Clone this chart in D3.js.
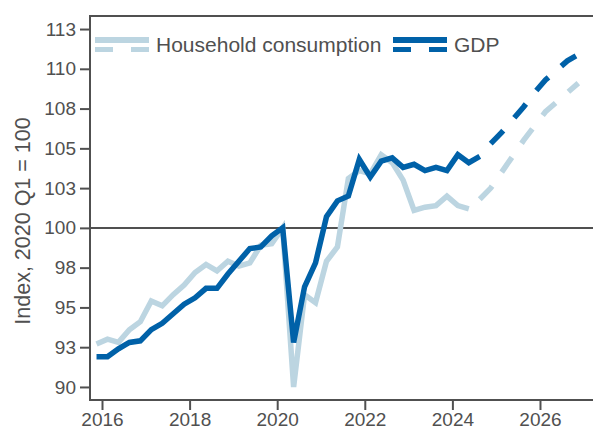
<!DOCTYPE html>
<html>
<head>
<meta charset="utf-8">
<script src="https://cdn.jsdelivr.net/npm/d3@7"></script>
<style>
  body { margin: 0; background: #fff; }
  svg { display: block; font-family: "Liberation Sans", Arial, sans-serif; }
</style>
</head>
<body>
<script>
// quarterly observations, 2015 Q4 .. 2026 Q4
const quarters = [
  "2015-Q4",
  "2016-Q1","2016-Q2","2016-Q3","2016-Q4",
  "2017-Q1","2017-Q2","2017-Q3","2017-Q4",
  "2018-Q1","2018-Q2","2018-Q3","2018-Q4",
  "2019-Q1","2019-Q2","2019-Q3","2019-Q4",
  "2020-Q1","2020-Q2","2020-Q3","2020-Q4",
  "2021-Q1","2021-Q2","2021-Q3","2021-Q4",
  "2022-Q1","2022-Q2","2022-Q3","2022-Q4",
  "2023-Q1","2023-Q2","2023-Q3","2023-Q4",
  "2024-Q1","2024-Q2","2024-Q3","2024-Q4",
  "2025-Q1","2025-Q2","2025-Q3","2025-Q4",
  "2026-Q1","2026-Q2","2026-Q3","2026-Q4"
];

// actuals: 2015 Q4 .. 2024 Q2
const hhActual = [
  92.7, 93.0, 92.8, 93.6, 94.1, 95.4, 95.1, 95.8, 96.4,
  97.2, 97.7, 97.3, 97.9, 97.6, 97.8, 98.9, 99.0,
  100.0, 90.0, 95.8, 95.3, 97.9, 98.8, 103.1, 103.6,
  103.4, 104.6, 104.1, 103.0, 101.1, 101.3, 101.4, 102.0,
  101.4, 101.2
];
// forecast: 2024 Q3 .. 2026 Q4
const hhForecast = [101.8, 102.5, 103.5, 104.5, 105.5, 106.4, 107.3, 107.9, 108.5, 109.1];

// actuals: 2015 Q4 .. 2024 Q3
const gdpActual = [
  91.9, 91.9, 92.4, 92.8, 92.9, 93.6, 94.0, 94.6, 95.2,
  95.6, 96.2, 96.2, 97.1, 97.9, 98.7, 98.8, 99.5,
  100.0, 92.8, 96.3, 97.8, 100.7, 101.7, 102.0, 104.3,
  103.2, 104.2, 104.4, 103.8, 104.0, 103.6, 103.8, 103.6,
  104.6, 104.1, 104.5
];
// forecast: 2024 Q4 .. 2026 Q4
const gdpForecast = [105.3, 106.0, 106.8, 107.6, 108.5, 109.3, 109.9, 110.5, 110.9];

const yTicks = [90, 92.5, 95, 97.5, 100, 102.5, 105, 107.5, 110, 112.5];
const yTickLabels = ["90", "93", "95", "98", "100", "103", "105", "108", "110", "113"];
const xTicks = [2016, 2018, 2020, 2022, 2024, 2026];

const W = 593, H = 432;
const m = {left: 90, right: -2, top: 16, bottom: 32};

const ink = "#505050";
const darkBlue = "#0061a8";
const lightBlue = "#bcd5e1";

function qTime(q) {
  const yr = +q.slice(0, 4), n = +q.slice(6);
  return yr + (n - 1) / 4 + 0.125;
}

function series(vals, start) {
  return vals.map((v, i) => ({t: qTime(quarters[start + i]), v: v}));
}

const svg = d3.select("body").append("svg")
  .attr("width", W)
  .attr("height", H);

const x = d3.scaleLinear()
  .domain([2015.726, 2027.256])
  .range([m.left, W - m.right]);

const y = d3.scaleLinear()
  .domain([89.18, 113.32])
  .range([H - m.bottom, m.top]);

const line = d3.line()
  .x(d => x(d.t))
  .y(d => y(d.v))
  .curve(d3.curveLinear);

// reference line at 100
svg.append("line")
  .attr("x1", m.left).attr("x2", W)
  .attr("y1", y(100)).attr("y2", y(100))
  .attr("stroke", ink)
  .attr("stroke-width", 2);

const lines = [
  {vals: hhActual, start: 0, color: lightBlue, dash: null},
  {vals: hhForecast, start: hhActual.length, color: lightBlue, dash: "18,17"},
  {vals: gdpActual, start: 0, color: darkBlue, dash: null},
  {vals: gdpForecast, start: gdpActual.length, color: darkBlue, dash: "18,17"}
];

lines.forEach(s => {
  svg.append("path")
    .datum(series(s.vals, s.start))
    .attr("d", line)
    .attr("fill", "none")
    .attr("stroke", s.color)
    .attr("stroke-width", 5.5)
    .attr("stroke-linejoin", "miter")
    .attr("stroke-dasharray", s.dash);
});

// axes
const yAxis = d3.axisLeft(y)
  .tickValues(yTicks)
  .tickFormat((d, i) => yTickLabels[i])
  .tickSize(10)
  .tickPadding(4);

const xAxis = d3.axisBottom(x)
  .tickValues(xTicks)
  .tickFormat(d3.format("d"))
  .tickSize(10)
  .tickPadding(3);

const gy = svg.append("g")
  .attr("transform", "translate(" + m.left + ",0)")
  .call(yAxis);

const gx = svg.append("g")
  .attr("transform", "translate(0," + (H - m.bottom) + ")")
  .call(xAxis);

[gx, gy].forEach(g => {
  g.select(".domain").remove();
  g.selectAll(".tick line").attr("stroke", ink).attr("stroke-width", 2);
  g.selectAll(".tick text")
    .attr("fill", ink)
    .style("font-size", "19px");
});

// frame (right edge sits just outside the window)
svg.append("rect")
  .attr("x", m.left)
  .attr("y", m.top)
  .attr("width", W - m.right - m.left)
  .attr("height", H - m.bottom - m.top)
  .attr("fill", "none")
  .attr("stroke", ink)
  .attr("stroke-width", 2);

svg.append("text")
  .attr("transform", "translate(30,221) rotate(-90)")
  .attr("text-anchor", "middle")
  .attr("fill", ink)
  .style("font-size", "21.5px")
  .text("Index, 2020 Q1 = 100");

// legend: solid swatch over a dashed swatch
const legendItems = [
  {label: "Household consumption", color: lightBlue, x: 95},
  {label: "GDP", color: darkBlue, x: 393}
];

const legend = svg.selectAll(".legend")
  .data(legendItems)
  .enter().append("g")
  .attr("class", "legend")
  .attr("transform", d => "translate(" + d.x + ",0)");

legend.append("line")
  .attr("x1", 0).attr("x2", 54)
  .attr("y1", 40).attr("y2", 40)
  .attr("stroke", d => d.color)
  .attr("stroke-width", 6);

legend.append("line")
  .attr("x1", 0).attr("x2", 54)
  .attr("y1", 49.5).attr("y2", 49.5)
  .attr("stroke", d => d.color)
  .attr("stroke-width", 5)
  .attr("stroke-dasharray", "18,18");

legend.append("text")
  .attr("x", 61)
  .attr("y", 52)
  .attr("fill", ink)
  .style("font-size", "21px")
  .text(d => d.label);
</script>
</body>
</html>
